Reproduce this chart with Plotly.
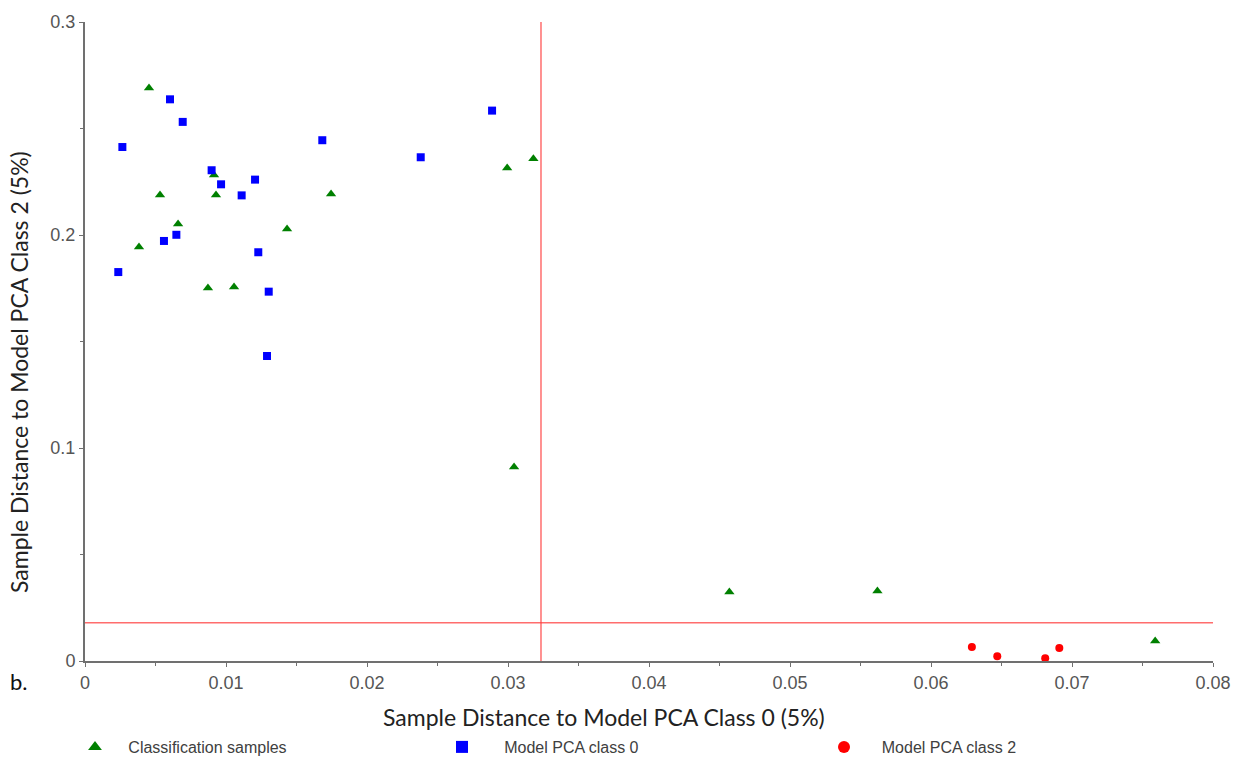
import plotly.graph_objects as go

# ---- data ----
cls_x = [0.00454, 0.00532, 0.00383, 0.0066, 0.00915, 0.00929, 0.00872, 0.01057,
         0.01433, 0.01745, 0.02994, 0.0318, 0.03043, 0.0457, 0.0562, 0.0759]
cls_y = [0.269, 0.2188, 0.1944, 0.2052, 0.2282, 0.2188, 0.1751, 0.1756,
         0.2028, 0.2192, 0.2315, 0.2358, 0.0911, 0.0324, 0.0329, 0.0094]

c0_x = [0.00603, 0.00693, 0.00265, 0.01683, 0.00898, 0.00965, 0.01206, 0.01111,
        0.00648, 0.0056, 0.00236, 0.01229, 0.01303, 0.01291, 0.02887, 0.02381]
c0_y = [0.2637, 0.2531, 0.2413, 0.2445, 0.2304, 0.2238, 0.2260, 0.2186,
        0.2001, 0.1972, 0.1826, 0.1919, 0.1734, 0.1432, 0.2584, 0.2365]

c2_x = [0.0629, 0.0647, 0.0681, 0.0691]
c2_y = [0.0066, 0.0022, 0.0013, 0.0061]

threshold_x = 0.03234
threshold_y = 0.0180

x_range = [0, 0.08]
y_range = [0, 0.3]

series_names = ["Classification samples", "Model PCA class 0", "Model PCA class 2"]

W, H = 1246, 766
ML, MR, MT, MB = 85, 33, 22, 105
PW, PH = W - ML - MR, H - MT - MB


def px_x(p):
    return (p - ML) / PW


def px_y(p):
    return (H - MB - p) / PH


def nb(n):
    return "\u00a0" * n


fig = go.Figure()
fig.add_trace(go.Scatter(
    x=cls_x, y=cls_y, mode="markers", name=nb(3) + series_names[0], legend="legend",
    marker=dict(symbol="triangle-up", size=9, color="#008000"), cliponaxis=False))
fig.add_trace(go.Scatter(
    x=c0_x, y=c0_y, mode="markers", name=nb(5) + series_names[1], legend="legend2",
    marker=dict(symbol="square", size=8, color="#0000ff"), cliponaxis=False))
fig.add_trace(go.Scatter(
    x=c2_x, y=c2_y, mode="markers", name=nb(4) + series_names[2], legend="legend3",
    marker=dict(symbol="circle", size=8, color="#ff0000"), cliponaxis=False))

line_style = dict(color="rgba(255,60,60,0.75)", width=1.5)
fig.add_shape(type="line", xref="x", yref="y", x0=threshold_x, x1=threshold_x,
              y0=y_range[0], y1=y_range[1], line=line_style, layer="below")
fig.add_shape(type="line", xref="x", yref="y", x0=x_range[0], x1=x_range[1],
              y0=threshold_y, y1=threshold_y, line=line_style, layer="below")

axis_common = dict(
    showgrid=False, zeroline=False, showline=True, linecolor="#707070", linewidth=2,
    ticks="outside", ticklen=4, tickcolor="#707070", tickwidth=1,
    tickfont=dict(family="Liberation Sans, Arial, sans-serif", size=18, color="#555555"),
)
fig.update_xaxes(range=x_range, dtick=0.01, tick0=0,
                 minor=dict(dtick=0.005, ticks="outside", ticklen=3, tickcolor="#707070"),
                 **axis_common)
fig.update_yaxes(range=y_range, dtick=0.1, tick0=0,
                 minor=dict(dtick=0.05, ticks="outside", ticklen=3, tickcolor="#707070"),
                 **axis_common)

title_font = dict(family="Lato, Open Sans, sans-serif", size=23, color="#222222")
fig.add_annotation(text="Sample Distance to Model PCA Class 0 (5%)", xref="paper", yref="paper",
                   x=px_x(604), y=px_y(717), showarrow=False, font=title_font,
                   xanchor="center", yanchor="middle")
fig.add_annotation(text="Sample Distance to Model PCA Class 2 (5%)", xref="paper", yref="paper",
                   x=px_x(19), y=px_y(372), showarrow=False, font=title_font, textangle=-90,
                   xanchor="center", yanchor="middle")
fig.add_annotation(text="b.", xref="paper", yref="paper", x=px_x(19), y=px_y(681),
                   showarrow=False, font=dict(family="Lato, sans-serif", size=22, color="#111111"),
                   xanchor="center", yanchor="middle")

leg_font = dict(family="Liberation Sans, Arial, sans-serif", size=16, color="#404040")
leg_common = dict(orientation="h", xanchor="left", yanchor="middle", font=leg_font,
                  bgcolor="rgba(0,0,0,0)", itemsizing="constant", borderwidth=0)
fig.update_layout(
    width=W, height=H,
    margin=dict(l=ML, r=MR, t=MT, b=MB, autoexpand=False),
    paper_bgcolor="white", plot_bgcolor="white",
    showlegend=True,
    legend=dict(x=px_x(96 - 21), y=px_y(747), **leg_common),
    legend2=dict(x=px_x(461 - 19), y=px_y(747), **leg_common),
    legend3=dict(x=px_x(844 - 20), y=px_y(747), **leg_common),
)

fig.write_html("out.html")
